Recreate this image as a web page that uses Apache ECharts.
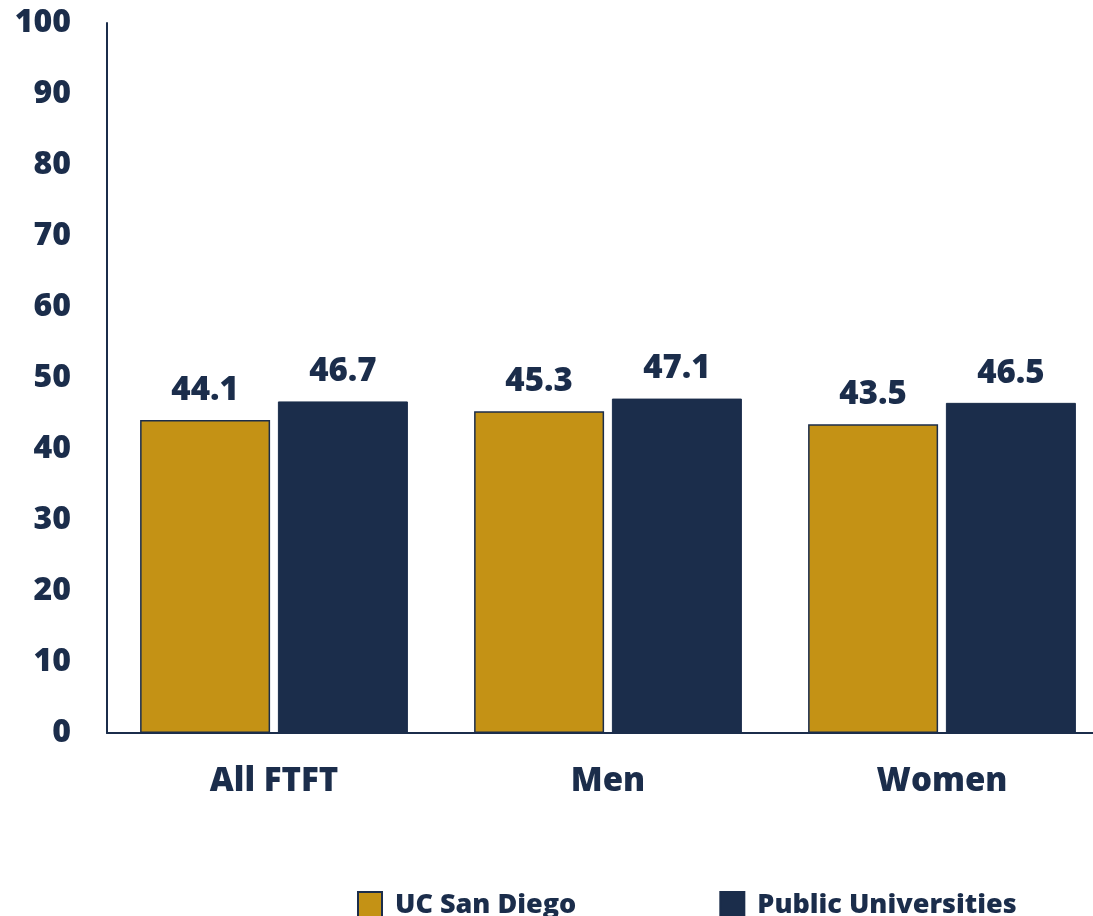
<!DOCTYPE html>
<html style="height: 100%">
   <head>
       <meta charset="utf-8">
   </head>
   <body style="height: 100%; margin: 0">
       <div id="container" style="width: 1093px; height: 916px"></div>
       <script type="text/javascript" src="https://cdn.jsdelivr.net/npm/echarts@6/dist/echarts.min.js"></script>
       <script type="text/javascript">
var categories = ['All FTFT', 'Men', 'Women'];
var ucsdValues = [44.1, 45.3, 43.5];
var publicValues = [46.7, 47.1, 46.5];
var seriesNames = ['UC San Diego', 'Public Universities'];

var navy = '#1b2d4b';
var gold = '#c49215';
var font = 'Open Sans';

var dom = document.getElementById("container");
var myChart = echarts.init(dom);
var option = {
    backgroundColor: 'white',
    textStyle: {fontFamily: font},
    // plot runs a bit past the right edge, like the original
    grid: {left: 107, width: 1002, top: 23, height: 710, outerBoundsMode: 'none'},
    legend: {
        top: 886,
        left: 352,
        itemWidth: 24,
        itemHeight: 26,
        itemGap: 143,
        icon: 'rect',
        textStyle: {color: navy, fontSize: 27, fontWeight: 800, fontFamily: font, padding: [0, 0, 0, 8]},
        data: seriesNames
    },
    xAxis: {
        type: 'category',
        data: categories,
        axisLine: {lineStyle: {color: navy, width: 2}},
        axisTick: {show: false},
        axisLabel: {color: navy, fontSize: 33, fontWeight: 800, margin: 32}
    },
    yAxis: {
        type: 'value',
        min: 0,
        max: 100,
        interval: 10,
        splitLine: {show: false},
        axisLine: {show: true, lineStyle: {color: navy, width: 2}},
        axisTick: {show: false},
        axisLabel: {color: navy, fontSize: 32, fontWeight: 800, margin: 36}
    },
    series: [
        {
            name: seriesNames[0],
            type: 'bar',
            data: ucsdValues,
            barWidth: 130,
            barGap: '6%',
            itemStyle: {color: gold, borderColor: navy, borderWidth: 1.5},
            label: {show: true, position: 'top', distance: 13, color: navy, fontSize: 33, fontWeight: 800}
        },
        {
            name: seriesNames[1],
            type: 'bar',
            data: publicValues,
            barWidth: 130,
            itemStyle: {color: navy, borderColor: navy, borderWidth: 1},
            label: {show: true, position: 'top', distance: 13, color: navy, fontSize: 33, fontWeight: 800}
        }
    ]
};
myChart.setOption(option, true);
       </script>
   </body>
</html>
